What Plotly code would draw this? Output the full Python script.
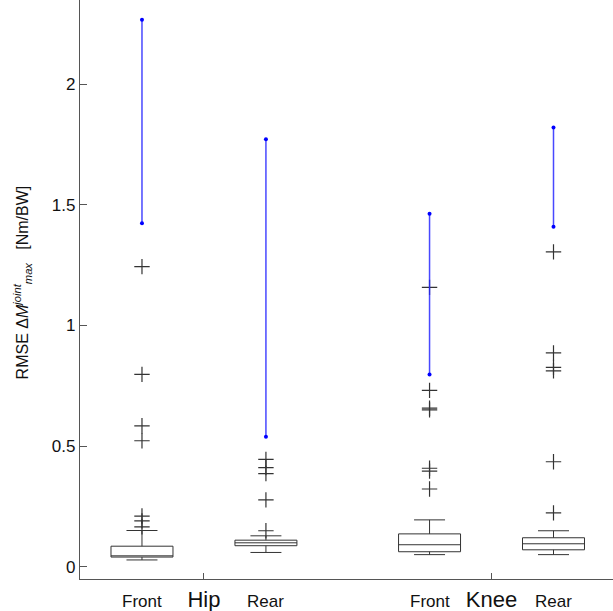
import plotly.graph_objects as go

# positions of the four boxes (Hip Front, Hip Rear, Knee Front, Knee Rear)
positions = [1.0, 2.0, 3.32, 4.32]
sub_labels = ["Front", "Rear", "Front", "Rear"]
group_labels = ["Hip", "Knee"]
group_positions = [1.5, 3.82]

q1 = [0.040, 0.087, 0.062, 0.070]
median = [0.045, 0.099, 0.091, 0.095]
q3 = [0.085, 0.110, 0.136, 0.120]
lower = [0.028, 0.059, 0.050, 0.050]
upper = [0.150, 0.128, 0.194, 0.149]

outliers_hip_front = [0.165, 0.19, 0.21, 0.522, 0.584, 0.797, 1.244]
outliers_hip_rear = [0.149, 0.277, 0.386, 0.411, 0.445]
outliers_knee_front = [0.322, 0.396, 0.408, 0.650, 0.657, 0.731, 1.158]
outliers_knee_rear = [0.223, 0.435, 0.812, 0.826, 0.886, 1.305]

range_hip_front = [1.424, 2.267]
range_hip_rear = [0.539, 1.772]
range_knee_front = [0.797, 1.463]
range_knee_rear = [1.409, 1.821]

yticks = [0, 0.5, 1, 1.5, 2]

fig = go.Figure()

fig.add_trace(go.Box(
    x=positions, q1=q1, median=median, q3=q3,
    lowerfence=lower, upperfence=upper,
    width=0.5, whiskerwidth=0.5, fillcolor="white",
    line=dict(color="#333333", width=1), boxpoints=False,
    showlegend=False, hoverinfo="skip",
))

all_out = [outliers_hip_front, outliers_hip_rear, outliers_knee_front, outliers_knee_rear]
all_rng = [range_hip_front, range_hip_rear, range_knee_front, range_knee_rear]
for pos, outs, rng in zip(positions, all_out, all_rng):
    fig.add_trace(go.Scatter(
        x=[pos] * len(outs), y=outs, mode="markers",
        marker=dict(symbol="cross-thin", size=11, line=dict(color="#333333", width=1.2)),
        showlegend=False, hoverinfo="skip",
    ))
    fig.add_trace(go.Scatter(
        x=[pos] * len(rng), y=rng, mode="lines+markers",
        line=dict(color="rgba(40,40,255,0.85)", width=1.5),
        marker=dict(color="#0000ff", size=4, symbol="circle"),
        showlegend=False, hoverinfo="skip",
    ))

FONT = "Liberation Sans, Arial, sans-serif"

annotations = []
for pos, lab in zip(positions, sub_labels):
    annotations.append(dict(
        x=pos, xref="x", y=-0.038, yref="paper", text=lab, showarrow=False,
        xanchor="center", yanchor="middle", font=dict(family=FONT, size=17, color="#111111"),
    ))

annotations.append(dict(
    x=-0.108, xref="paper", y=0.513, yref="paper", textangle=-90,
    xanchor="center", yanchor="middle",
    text="RMSE Δ<i>M</i><sup><i>joint</i></sup><sub><i>max</i></sub>   [Nm/BW]",
    showarrow=False, font=dict(family=FONT, size=16, color="#111111"),
))

fig.update_layout(
    width=613, height=611,
    margin=dict(l=80, r=0, t=0, b=32),
    plot_bgcolor="white", paper_bgcolor="white",
    font=dict(family=FONT, color="#111111"),
    annotations=annotations,
    xaxis=dict(
        range=[0.5, 4.8], tickvals=group_positions, ticktext=group_labels,
        ticks="inside", ticklen=6, tickcolor="#555555",
        showline=True, linecolor="#555555", linewidth=1.2,
        showgrid=False, zeroline=False,
        tickfont=dict(family=FONT, size=22, color="#111111"),
    ),
    yaxis=dict(
        range=[-0.051, 2.349], tickvals=yticks, ticktext=["0", "0.5", "1", "1.5", "2"],
        ticks="inside", ticklen=7, tickcolor="#555555",
        showline=True, linecolor="#555555", linewidth=1.2,
        showgrid=False, zeroline=False,
        tickfont=dict(family=FONT, size=17, color="#111111"),
    ),
)

fig.write_html("out.html", post_script="document.body.style.margin='0px';",
               config={"displayModeBar": False})
